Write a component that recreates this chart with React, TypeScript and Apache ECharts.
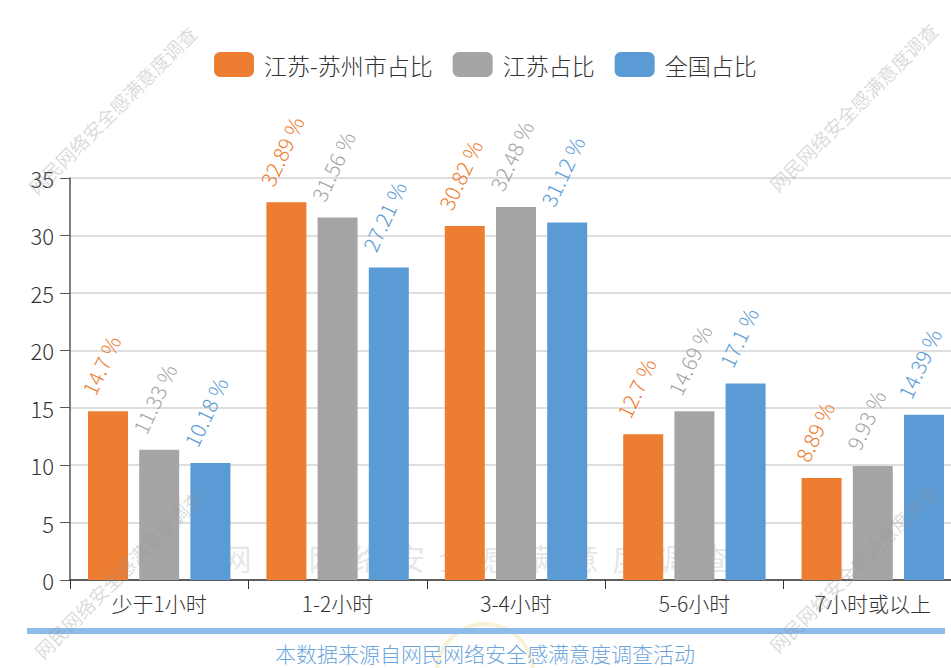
import React, { useEffect, useRef } from "react";
import * as echarts from "echarts";

const categories = ["少于1小时", "1-2小时", "3-4小时", "5-6小时", "7小时或以上"];
const seriesNames = ["江苏-苏州市占比", "江苏占比", "全国占比"];
const suzhou = [14.7, 32.89, 30.82, 12.7, 8.89];
const jiangsu = [11.33, 31.56, 32.48, 14.69, 9.93];
const national = [10.18, 27.21, 31.12, 17.1, 14.39];
const colors = ["#ED7D31", "#A5A5A5", "#5B9BD5"];
const watermark = "网民网络安全感满意度调查";
const footnote = "本数据来源自网民网络安全感满意度调查活动";

const FONT = "'Noto Sans CJK SC', 'Noto Sans', sans-serif";

export default function App() {
  const ref = useRef<HTMLDivElement>(null);
  useEffect(() => {
    if (!ref.current) return;
    const chart = echarts.init(ref.current, undefined, { renderer: "svg" });
    const values = [suzhou, jiangsu, national];
    const diag = (x: number, y: number) => ({
      type: "text",
      x,
      y,
      rotation: Math.PI / 4,
      z: 100,
      style: {
        text: watermark,
        fill: "rgba(150,150,150,0.35)",
        font: `19px ${FONT}`,
        align: "center",
        verticalAlign: "middle",
      },
    });
    chart.setOption({
      animation: false,
      textStyle: { fontFamily: FONT },
      legend: {
        top: 47,
        left: 209,
        itemWidth: 40,
        itemHeight: 25,
        itemGap: 20,
        icon: "roundRect",
        textStyle: { fontSize: 23, color: "#333", fontFamily: FONT, fontWeight: 300, padding: [0, 0, 0, 5] },
        data: seriesNames,
      },
      grid: {
        left: 70,
        width: 892,
        top: 178,
        bottom: 88,
        containLabel: false,
        outerBoundsMode: "none",
      },
      xAxis: {
        type: "category",
        data: categories,
        axisLine: { lineStyle: { color: "#333", width: 1.5 } },
        axisTick: { show: true, length: 9, lineStyle: { color: "#333" } },
        axisLabel: { fontSize: 21, color: "#333", margin: 12, fontFamily: FONT, fontWeight: 300 },
      },
      yAxis: {
        type: "value",
        min: 0,
        max: 35,
        interval: 5,
        axisLine: { show: true, lineStyle: { color: "#555", width: 1.5 } },
        axisTick: { show: true, length: 10, lineStyle: { color: "#555" } },
        axisLabel: { fontSize: 22, color: "#333", margin: 16, fontFamily: FONT, fontWeight: 300 },
        splitLine: { lineStyle: { color: "#d4d4d4", width: 1.5 } },
      },
      graphic: [
        {
          type: "text",
          left: "center",
          x: 0,
          top: 542,
          z: -10,
          style: {
            text: watermark.split("").join("  "),
            fill: "rgba(200,200,200,0.45)",
            font: `30px ${FONT}`,
          },
        },
        {
          type: "circle",
          shape: { cx: 485, cy: 672, r: 48 },
          z: -10,
          style: { fill: "none", stroke: "rgba(240,220,150,0.4)", lineWidth: 4 },
        },
        {
          type: "line",
          shape: { x1: 27, y1: 631, x2: 945, y2: 631 },
          style: { stroke: "#8DBBEA", lineWidth: 6 },
        },
        {
          type: "text",
          x: 485,
          y: 653,
          style: {
            text: footnote,
            fill: "#6EA6DC",
            font: `300 21px ${FONT}`,
            align: "center",
            verticalAlign: "middle",
          },
        },
        diag(112, 110),
        diag(853, 107),
        diag(118, 574),
        diag(853, 568),
      ],
      series: seriesNames.map((name, i) => ({
        name,
        type: "bar",
        data: values[i],
        barWidth: 40,
        barGap: "28%",
        itemStyle: { color: colors[i] },
        label: {
          show: true,
          position: "top",
          rotate: 65,
          align: "left",
          verticalAlign: "middle",
          offset: [3, -24],
          distance: 5,
          formatter: "{c} %",
          fontSize: 21,
          fontWeight: 300,
          color: colors[i],
          fontFamily: FONT,
        },
      })),
    });
    return () => chart.dispose();
  }, []);
  return <div ref={ref} style={{ width: 951, height: 668, position: "absolute", left: 0, top: 0 }} />;
}
